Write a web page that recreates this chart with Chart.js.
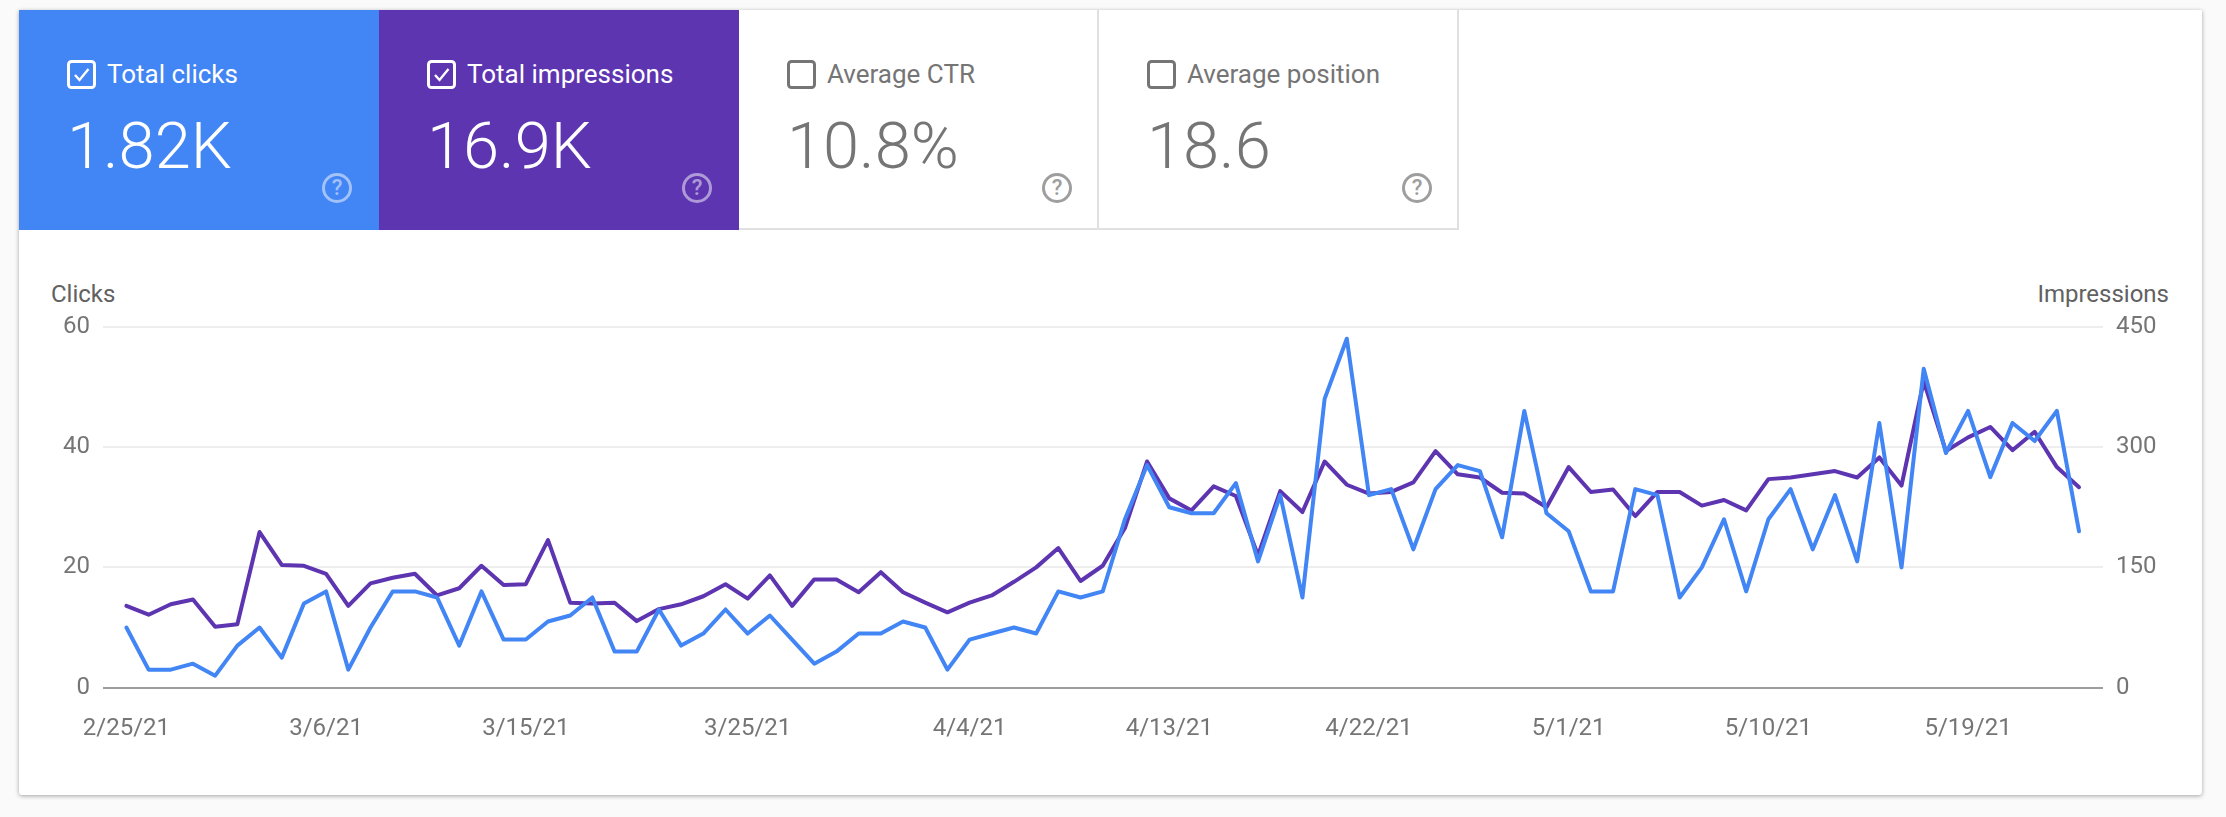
<!DOCTYPE html>
<html>
<head>
<meta charset="utf-8">
<script src="https://cdn.jsdelivr.net/npm/chart.js@4"></script>
<style>
  html, body { margin: 0; height: 100%; overflow: hidden; background: #fafafa; font-family: Roboto, sans-serif; }
  #card { position: absolute; left: 19px; top: 10px; width: 2183px; height: 785px; background: #fff;
    border-radius: 0 0 3px 3px; box-shadow: 0 1px 4px rgba(0,0,0,.35); }
  .tile { position: absolute; top: 0; width: 360px; height: 220px; box-sizing: border-box; color: #757575; }
  .tile.white { border-right: 2px solid #e0e0e0; border-bottom: 2px solid #e0e0e0; }
  .tile.on { color: #fff; }
  .tile svg { position: absolute; left: 48px; top: 50px; }
  .name { position: absolute; left: 88px; top: 48px; font-size: 26px; line-height: 32px; white-space: nowrap; }
  .num { position: absolute; left: 48px; top: 97px; font-size: 65px; font-weight: 300; line-height: 78px; white-space: nowrap; }
  .help { position: absolute; left: 303px; top: 163px; width: 30px; height: 30px; box-sizing: border-box; border: 3px solid #9e9e9e;
    border-radius: 50%; color: #9e9e9e; font-size: 22px; font-weight: 500; line-height: 24px; text-align: center; }
  .tile.on .help { border-color: rgba(255,255,255,.5); color: rgba(255,255,255,.5); }
  .axis-name { position: absolute; top: 269px; font-size: 24px; line-height: 30px; color: #616161; }
  canvas { position: absolute; left: 0; top: 230px; }
</style>
</head>
<body>
<div id="card">
  <div class="tile on" style="left:0;background:#4285f4">
    <svg width="30" height="30"><rect x="1.5" y="1.5" width="26" height="26" rx="3" fill="none" stroke="#fff" stroke-width="3"/><path d="M8 15l4.500 5 9-11" fill="none" stroke="#fff" stroke-width="2.400"/></svg>
    <div class="name">Total clicks</div><div class="num">1.82K</div><div class="help">?</div>
  </div>
  <div class="tile on" style="left:360px;background:#5e35b1">
    <svg width="30" height="30"><rect x="1.5" y="1.5" width="26" height="26" rx="3" fill="none" stroke="#fff" stroke-width="3"/><path d="M8 15l4.500 5 9-11" fill="none" stroke="#fff" stroke-width="2.400"/></svg>
    <div class="name">Total impressions</div><div class="num">16.9K</div><div class="help">?</div>
  </div>
  <div class="tile white" style="left:720px">
    <svg width="30" height="30"><rect x="1.5" y="1.5" width="26" height="26" rx="3" fill="none" stroke="#757575" stroke-width="3"/></svg>
    <div class="name">Average CTR</div><div class="num">10.8%</div><div class="help">?</div>
  </div>
  <div class="tile white" style="left:1080px">
    <svg width="30" height="30"><rect x="1.5" y="1.5" width="26" height="26" rx="3" fill="none" stroke="#757575" stroke-width="3"/></svg>
    <div class="name">Average position</div><div class="num">18.6</div><div class="help">?</div>
  </div>
  <div class="axis-name" style="left:32px">Clicks</div>
  <div class="axis-name" style="right:33px">Impressions</div>
  <canvas id="chart" width="2183" height="555"></canvas>
</div>
<script>
// one entry per day, 2/25/21 to 5/24/21
const clicks = [
  10, 3, 3, 4, 2, 7, 10, 5, 14, 16, 3, 10, 16, 16, 15, 7, 16, 8, 8, 11, 12, 15,
  6, 6, 13, 7, 9, 13, 9, 12, 8, 4, 6, 9, 9, 11, 10, 3, 8, 9, 10, 9, 16, 15, 16,
  28, 37, 30, 29, 29, 34, 21, 32, 15, 48, 58, 32, 33, 23, 33, 37, 36, 25, 46,
  29, 26, 16, 16, 33, 32, 15, 20, 28, 16, 28, 33, 23, 32, 21, 44, 20, 53, 39,
  46, 35, 44, 41, 46, 26,
];
const impressions = [
  102, 91, 104, 110, 76, 79, 194, 153, 152, 142, 102, 130, 137, 142, 115, 124,
  152, 128, 129, 184, 106, 105, 106, 83, 98, 104, 114, 129, 111, 140, 102, 135,
  135, 119, 144, 119, 106, 94, 106, 115, 132, 150, 174, 133, 152, 199, 282, 236,
  221, 251, 239, 165, 245, 219, 282, 253, 242, 244, 256, 295, 266, 262, 243, 242,
  225, 275, 244, 247, 214, 244, 244, 227, 234, 221, 260, 262, 266, 270, 262, 287,
  252, 382, 295, 312, 325, 296, 319, 275, 250,
];
const tickDays = [0, 9, 18, 28, 38, 47, 56, 65, 74, 83];
const tickLabels = ["2/25/21", "3/6/21", "3/15/21", "3/25/21", "4/4/21", "4/13/21", "4/22/21", "5/1/21", "5/10/21", "5/19/21"];

const toPoints = (values) => values.map((value, day) => ({ x: day, y: value }));
const tickFont = { family: "Roboto", size: 24 };

new Chart(document.getElementById("chart"), {
  type: "line",
  data: {
    datasets: [
      { label: "Clicks", data: toPoints(clicks), yAxisID: "y", borderColor: "#4285f4" },
      { label: "Impressions", data: toPoints(impressions), yAxisID: "y1", borderColor: "#5e35b1" },
    ],
  },
  options: {
    responsive: false,
    animation: false,
    layout: { padding: { top: 86.7, left: 0, right: 0, bottom: 0 } },
    plugins: { legend: { display: false }, tooltip: { enabled: false } },
    elements: {
      point: { radius: 0 },
      line: { borderWidth: 4, tension: 0, borderJoinStyle: "round", borderCapStyle: "round" },
    },
    scales: {
      x: {
        type: "linear",
        min: -1.055,
        max: 89.08,
        afterBuildTicks: (axis) => { axis.ticks = tickDays.map((value) => ({ value })); },
        afterFit: (axis) => { axis.height = 107.3; },
        grid: { display: false },
        border: { display: false },
        ticks: {
          callback: (value) => tickLabels[tickDays.indexOf(value)],
          autoSkip: false, maxRotation: 0, padding: 19, color: "#757575", font: tickFont,
        },
      },
      y: {
        position: "left",
        min: 0,
        max: 60,
        afterBuildTicks: (axis) => { axis.ticks = [0, 20, 40, 60].map((value) => ({ value })); },
        afterFit: (axis) => { axis.width = 84; },
        border: { display: false },
        grid: {
          drawTicks: false,
          lineWidth: 2,
          color: (ctx) => (ctx.tick.value === 0 ? "#9e9e9e" : "#eeeeee"),
        },
        ticks: { padding: 13, color: "#757575", font: tickFont },
      },
      y1: {
        position: "right",
        min: 0,
        max: 450,
        afterBuildTicks: (axis) => { axis.ticks = [0, 150, 300, 450].map((value) => ({ value })); },
        afterFit: (axis) => { axis.width = 99; },
        border: { display: false },
        grid: { display: false, drawTicks: false },
        ticks: { padding: 13, color: "#757575", font: tickFont },
      },
    },
  },
});
</script>
</body>
</html>
